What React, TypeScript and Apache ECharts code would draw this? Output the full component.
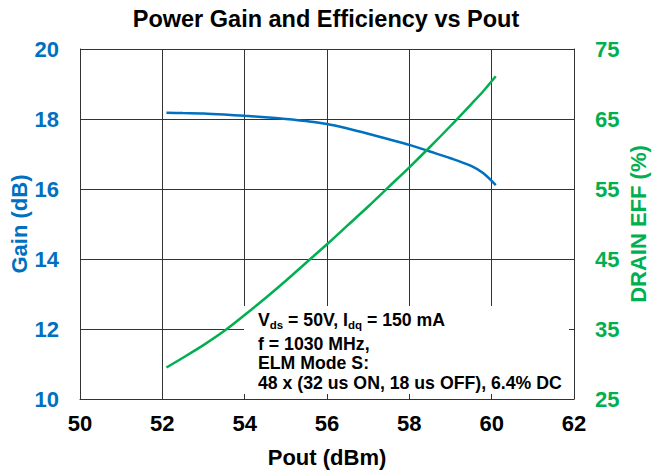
import React, { useEffect, useRef } from "react";
import * as echarts from "echarts";

const poutDbm = [52.1, 52.5, 53, 53.5, 54, 54.5, 55, 55.5, 56, 56.5, 57, 57.5, 58, 58.5, 59, 59.5, 59.8, 60.1];
const gainDb = [18.18, 18.17, 18.16, 18.13, 18.09, 18.05, 18.0, 17.94, 17.86, 17.73, 17.58, 17.42, 17.26, 17.07, 16.88, 16.66, 16.45, 16.11];
const drainEff = [29.5, 30.9, 32.7, 34.7, 37.0, 39.4, 41.9, 44.5, 47.1, 49.8, 52.5, 55.3, 58.1, 61.0, 64.0, 67.1, 69.0, 71.1];

const titleText = "Power Gain and Efficiency vs Pout";
const xName = "Pout (dBm)";
const leftName = "Gain (dB)";
const rightName = "DRAIN EFF (%)";
const noteLine1 = "V{sub|ds} = 50V, I{sub|dq} = 150 mA";
const noteRest = ["f = 1030 MHz,", "ELM Mode S:", "48 x (32 us ON, 18 us OFF), 6.4% DC"];

const BLUE = "#0070C0";
const GREEN = "#00B050";
const GRID = "#333333";
const FONT = "Liberation Sans, Arial, sans-serif";

export default function App() {
  const ref = useRef<HTMLDivElement>(null);
  useEffect(() => {
    if (!ref.current) return;
    const chart = echarts.init(ref.current, null, { renderer: "svg" });
    chart.setOption({
      animation: false,
      backgroundColor: "#ffffff",
      textStyle: { fontFamily: FONT },
      title: {
        text: titleText,
        left: "center",
        top: 2,
        textStyle: { fontSize: 23.5, fontWeight: "bold", color: "#000", fontFamily: FONT },
      },
      grid: { left: 80, right: 78, top: 49, bottom: 77, containLabel: false, outerBoundsMode: "none" },
      xAxis: [
        {
          type: "value",
          min: 50,
          max: 62,
          interval: 2,
          position: "bottom",
          name: xName,
          nameLocation: "middle",
          nameGap: 47,
          nameMoveOverlap: false,
          nameTextStyle: { fontSize: 22, fontWeight: "bold", color: "#000", fontFamily: FONT },
          axisLine: { show: true, lineStyle: { color: GRID, width: 1 } },
          axisTick: { show: false },
          axisLabel: { fontSize: 22, fontWeight: "bold", color: "#000", margin: 13, fontFamily: FONT },
          splitLine: { show: true, lineStyle: { color: GRID, width: 1 } },
        },
        {
          type: "value",
          min: 50,
          max: 62,
          interval: 2,
          position: "bottom",
          offset: 0,
          z: 5,
          axisLine: { show: false },
          axisTick: { show: true, inside: true, length: 5, lineStyle: { color: GRID, width: 1 } },
          axisLabel: { show: false },
          splitLine: { show: false },
        },
      ],
      yAxis: [
        {
          type: "value",
          min: 10,
          max: 20,
          interval: 2,
          position: "left",
          name: leftName,
          nameLocation: "middle",
          nameRotate: 90,
          nameGap: 50,
          nameMoveOverlap: false,
          nameTextStyle: { fontSize: 22, fontWeight: "bold", color: BLUE, fontFamily: FONT },
          axisLine: { show: true, lineStyle: { color: GRID, width: 1 } },
          axisTick: { show: false },
          axisLabel: { fontSize: 22, fontWeight: "bold", color: BLUE, margin: 21, fontFamily: FONT },
          splitLine: { show: true, lineStyle: { color: GRID, width: 1 } },
        },
        {
          type: "value",
          min: 25,
          max: 75,
          interval: 10,
          position: "right",
          name: rightName,
          nameLocation: "middle",
          nameRotate: 90,
          nameGap: 53,
          nameMoveOverlap: false,
          nameTextStyle: { fontSize: 22, fontWeight: "bold", color: GREEN, fontFamily: FONT },
          axisLine: { show: true, lineStyle: { color: GRID, width: 1 } },
          axisTick: { show: false },
          axisLabel: { fontSize: 22, fontWeight: "bold", color: GREEN, margin: 21, fontFamily: FONT },
          splitLine: { show: false },
        },
        {
          type: "value",
          min: 25,
          max: 75,
          interval: 10,
          position: "right",
          offset: 0,
          z: 5,
          axisLine: { show: false },
          axisTick: { show: true, inside: true, length: 5, lineStyle: { color: GRID, width: 1 } },
          axisLabel: { show: false },
          splitLine: { show: false },
        },
      ],
      graphic: [
        {
          type: "rect",
          z: 1,
          shape: { x: 244, y: 306, width: 329, height: 92 },
          style: { fill: "#ffffff" },
          silent: true,
        },
        {
          type: "text",
          z: 6,
          left: 258,
          top: 311,
          style: {
            text: noteLine1,
            fontSize: 17.7,
            fontWeight: "bold",
            fontFamily: FONT,
            fill: "#000",
            rich: {
              sub: { fontSize: 11.5, fontWeight: "bold", fontFamily: FONT, fill: "#000", padding: [10, 0, 0, 0] },
            },
          },
        },
        {
          type: "text",
          z: 6,
          left: 258,
          top: 334,
          style: {
            text: noteRest.join("\n"),
            fontSize: 17.7,
            fontWeight: "bold",
            fontFamily: FONT,
            fill: "#000",
            lineHeight: 19.5,
          },
        },
      ],
      series: [
        {
          name: "Gain",
          type: "line",
          xAxisIndex: 0,
          yAxisIndex: 0,
          data: poutDbm.map((x, i) => [x, gainDb[i]]),
          smooth: 0.3,
          showSymbol: false,
          lineStyle: { color: BLUE, width: 2.5 },
          z: 3,
        },
        {
          name: "Drain Eff",
          type: "line",
          xAxisIndex: 0,
          yAxisIndex: 1,
          data: poutDbm.map((x, i) => [x, drainEff[i]]),
          smooth: 0.3,
          showSymbol: false,
          lineStyle: { color: GREEN, width: 2.5 },
          z: 3,
        },
      ],
    });
    return () => chart.dispose();
  }, []);
  return (
    <div
      ref={ref}
      style={{ position: "absolute", left: 0, top: 0, width: 652, height: 476 }}
    />
  );
}
